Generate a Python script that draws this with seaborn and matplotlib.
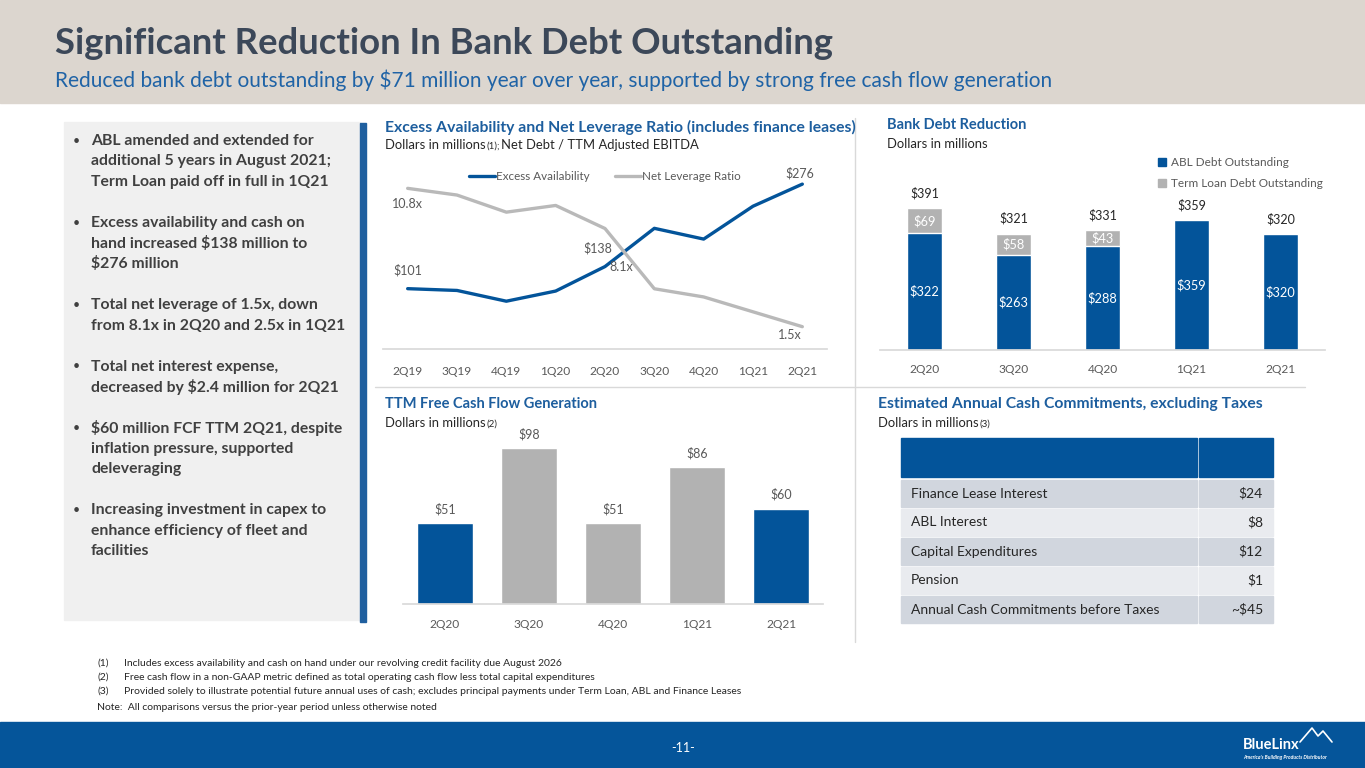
import matplotlib
matplotlib.use("Agg")
import matplotlib.pyplot as plt
from matplotlib.patches import Rectangle
from matplotlib.lines import Line2D
import seaborn as sns

# ---- data ----
line_quarters = ['2Q19', '3Q19', '4Q19', '1Q20', '2Q20', '3Q20', '4Q20', '1Q21', '2Q21']
excess_avail = [101, 98, 80, 97, 138, 202, 184, 239, 276]
net_leverage = [10.8, 10.35, 9.2, 9.65, 8.1, 4.05, 3.5, 2.5, 1.5]
avail_labels = {0: '$101', 4: '$138', 8: '$276'}
lev_labels = {0: '10.8x', 4: '8.1x', 8: '1.5x'}

debt_quarters = ['2Q20', '3Q20', '4Q20', '1Q21', '2Q21']
abl_debt = [322, 263, 288, 359, 320]
term_loan = [69, 58, 43, 0, 0]
total_debt = [391, 321, 331, 359, 320]

fcf_quarters = ['2Q20', '3Q20', '4Q20', '1Q21', '2Q21']
fcf_values = [51, 98, 51, 86, 60]

table_items = ['Finance Lease Interest', 'ABL Interest', 'Capital Expenditures',
               'Pension', 'Annual Cash Commitments before Taxes']
table_values = ['$24', '$8', '$12', '$1', '~$45']

bullets = [
    ['ABL amended and extended for', 'additional 5 years in August 2021;', 'Term Loan paid off in full in 1Q21'],
    ['Excess availability and cash on', 'hand increased $138 million to', '$276 million'],
    ['Total net leverage of 1.5x, down', 'from 8.1x in 2Q20 and 2.5x in 1Q21'],
    ['Total net interest expense,', 'decreased by $2.4 million for 2Q21'],
    ['$60 million FCF TTM 2Q21, despite', 'inflation pressure, supported', 'deleveraging'],
    ['Increasing investment in capex to', 'enhance efficiency of fleet and', 'facilities'],
]

footnotes = [
    ('(1)', 'Includes excess availability and cash on hand under our revolving credit facility due August 2026'),
    ('(2)', 'Free cash flow in a non-GAAP metric defined as total operating cash flow less total capital expenditures'),
    ('(3)', 'Provided solely to illustrate potential future annual uses of cash; excludes principal payments under Term Loan, ABL and Finance Leases'),
]

# ---- style ----
BLUE = '#03549A'
GREY = '#B2B2B2'
LINE_GREY = '#B9B9B9'
HEAD = '#1D5E9E'
DARK = '#404040'
TICK = '#595959'

sns.set_theme(style='white')
plt.rcParams['font.family'] = ['Lato', 'DejaVu Sans']

W, H = 1365, 768
fig = plt.figure(figsize=(W / 100, H / 100), dpi=100)
fig.patch.set_facecolor('white')

# background axes in pixel coordinates
bg = fig.add_axes([0, 0, 1, 1])
bg.set_xlim(0, W)
bg.set_ylim(H, 0)
bg.axis('off')


def text_width(t):
    return t.get_window_extent(renderer=fig.canvas.get_renderer()).width


def fit_text(x, y, s, width, size, **kw):
    t = bg.text(x, y, s, fontsize=size, **kw)
    t.set_fontsize(size * width / text_width(t))
    return t


def sub_line(x, y, parts):
    # parts: list of (text, fontsize, dy)
    for s, size, dy in parts:
        t = bg.text(x, y + dy, s, fontsize=size, color='#262626', va='center')
        x += text_width(t) + 1


def px_axes(x0, y0, x1, y1):
    a = fig.add_axes([x0 / W, 1 - y1 / H, (x1 - x0) / W, (y1 - y0) / H])
    a.patch.set_visible(False)
    return a


# header band (wood texture approximated)
bg.add_patch(Rectangle((0, 0), W, 103, color='#DCD6CF', zorder=0))
fit_text(55, 43, 'Significant Reduction In Bank Debt Outstanding', 780, 26,
         color='#3C4859', fontweight='bold', va='center')
fit_text(55, 80, 'Reduced bank debt outstanding by $71 million year over year, '
         'supported by strong free cash flow generation', 997, 15,
         color='#1F63A6', va='center')

# left panel
bg.add_patch(Rectangle((64, 122), 296, 498, color='#F0F0F0', zorder=0))
bg.add_patch(Rectangle((360, 123), 6, 499, color='#1F5F9F', zorder=1))
y = 141
for block in bullets:
    bg.text(73, y, '\u2022', fontsize=9, color=DARK, va='center')
    for line in block:
        bg.text(91, y, line, fontsize=11.3, color=DARK, fontweight='bold', va='center')
        y += 20.5
    y += 20.5

# separators
bg.plot([855, 855], [118, 642], color='#D9D9D9', lw=1)
bg.plot([375, 1305], [387, 387], color='#D9D9D9', lw=1)

# section headings
fit_text(385, 127, 'Excess Availability and Net Leverage Ratio (includes finance leases)', 470, 10.5,
         color=HEAD, fontweight='bold', va='center')
sub_line(385, 145, [('Dollars in millions', 9.4, 0), ('(1);', 7, 1.5),
                    ('Net Debt / TTM Adjusted EBITDA', 9.4, 0)])

bg.text(887, 125, 'Bank Debt Reduction', fontsize=10.5, color=HEAD, fontweight='bold', va='center')
sub_line(887, 144, [('Dollars in millions', 9.4, 0)])

bg.text(385, 404, 'TTM Free Cash Flow Generation', fontsize=10.5, color=HEAD, fontweight='bold', va='center')
sub_line(385, 423, [('Dollars in millions', 9.4, 0), ('(2)', 7, 1.5)])

fit_text(878, 404, 'Estimated Annual Cash Commitments, excluding Taxes', 385, 10.5,
         color=HEAD, fontweight='bold', va='center')
sub_line(878, 423, [('Dollars in millions', 9.4, 0), ('(3)', 7, 1.5)])

# ---- line chart: excess availability / net leverage ----
ax = px_axes(383, 165, 827, 349)
xs = list(range(len(line_quarters)))
sns.lineplot(x=xs, y=excess_avail, ax=ax, color=BLUE, lw=2.4, label='Excess Availability', legend=False)
ax2 = ax.twinx()
ax2.patch.set_visible(False)
sns.lineplot(x=xs, y=net_leverage, ax=ax2, color=LINE_GREY, lw=2.4, label='Net Leverage Ratio', legend=False)
ax.set_xlim(-0.5, 8.5)
ax.set_ylim(0, 308)
ax2.set_ylim(0, 12.37)
for a in (ax, ax2):
    a.set_yticks([])
    a.set_ylabel('')
    for side in ('top', 'left', 'right'):
        a.spines[side].set_visible(False)
    a.spines['bottom'].set_color('#D9D9D9')
ax2.spines['bottom'].set_visible(False)
ax.set_xticks(xs)
ax.set_xticklabels(line_quarters, fontsize=8.6, color=TICK)
ax.tick_params(axis='x', length=0, pad=12)

avail_off = {0: (0, 18), 4: (-7, 18), 8: (-3, 11)}
for i, s in avail_labels.items():
    ax.annotate(s, (i, excess_avail[i]), xytext=avail_off[i], textcoords='offset pixels',
                ha='center', va='center', fontsize=9, color=TICK)
lev_off = {0: (0, -16), 4: (16, -38), 8: (-12, -8)}
for i, s in lev_labels.items():
    ax2.annotate(s, (i, net_leverage[i]), xytext=lev_off[i], textcoords='offset pixels',
                 ha='center', va='center', fontsize=9, color=TICK)

handles = [Line2D([], [], color=BLUE, lw=2.4), Line2D([], [], color=LINE_GREY, lw=2.4)]
ax.legend(handles, ['Excess Availability', 'Net Leverage Ratio'], ncol=2, frameon=False,
          loc='center', bbox_to_anchor=(0.5, 0.935), fontsize=8.4, handlelength=2.2,
          handletextpad=0.1, columnspacing=2.2, labelcolor=TICK)

# ---- stacked bars: bank debt ----
bx = px_axes(880, 165, 1325, 350)
sns.barplot(x=debt_quarters, y=total_debt, ax=bx, color=GREY, width=0.39, saturation=1)
sns.barplot(x=debt_quarters, y=abl_debt, ax=bx, color=BLUE, width=0.39, saturation=1)
bx.set_xlim(-0.5, 4.5)
bx.set_ylim(0, 510.5)
bx.set_yticks([])
for side in ('top', 'left', 'right'):
    bx.spines[side].set_visible(False)
bx.spines['bottom'].set_color('#D9D9D9')
bx.tick_params(axis='x', length=0, pad=10, labelsize=8.6, labelcolor=TICK)
for i in range(len(debt_quarters)):
    bx.annotate(f'${total_debt[i]}', (i, total_debt[i]), xytext=(0, 15), textcoords='offset pixels',
                ha='center', va='center', fontsize=9, color='#262626')
    bx.text(i, abl_debt[i] / 2, f'${abl_debt[i]}', ha='center', va='center', fontsize=9.2, color='white')
    if term_loan[i]:
        bx.text(i, abl_debt[i] + term_loan[i] / 2, f'${term_loan[i]}', ha='center', va='center',
                fontsize=9.2, color='white')
bx.legend([Rectangle((0, 0), 1, 1, color=BLUE), Rectangle((0, 0), 1, 1, color=GREY)],
          ['ABL Debt Outstanding', 'Term Loan Debt Outstanding'], frameon=False,
          loc='upper left', bbox_to_anchor=(0.6, 1.1), fontsize=8.5, handlelength=0.7,
          handleheight=0.7, handletextpad=0.4, labelspacing=0.85, labelcolor=TICK)

# ---- bars: TTM free cash flow ----
fx = px_axes(403, 420, 823, 604)
fcf_colors = [BLUE, GREY, GREY, GREY, BLUE]
sns.barplot(x=fcf_quarters, y=fcf_values, hue=fcf_quarters, palette=fcf_colors, legend=False,
            ax=fx, width=0.67, saturation=1)
fx.set_xlim(-0.5, 4.5)
fx.set_ylim(0, 115.8)
fx.set_yticks([])
for side in ('top', 'left', 'right'):
    fx.spines[side].set_visible(False)
fx.spines['bottom'].set_color('#D9D9D9')
fx.tick_params(axis='x', length=0, pad=11, labelsize=8.6, labelcolor=TICK)
for i, v in enumerate(fcf_values):
    fx.annotate(f'${v}', (i, v), xytext=(0, 14), textcoords='offset pixels',
                ha='center', va='center', fontsize=9, color=TICK)

# ---- table: annual cash commitments ----
bg.add_patch(Rectangle((901, 438), 296, 39, color=BLUE))
bg.add_patch(Rectangle((1199, 438), 74, 39, color=BLUE))
row_top = 480
for i, (item, val) in enumerate(zip(table_items, table_values)):
    shade = '#D1D6DE' if i % 2 == 0 else '#E9EBEF'
    bg.add_patch(Rectangle((901, row_top), 296, 27, color=shade))
    bg.add_patch(Rectangle((1199, row_top), 74, 27, color=shade))
    bg.text(911, row_top + 13.5, item, fontsize=10, color='#262626', va='center')
    bg.text(1263, row_top + 13.5, val, fontsize=10, color='#262626', va='center', ha='right')
    row_top += 29

# ---- footnotes ----
fy = 663
for num, txt in footnotes:
    bg.text(97, fy, num, fontsize=7.5, color='#262626', va='center')
    bg.text(124, fy, txt, fontsize=7.5, color='#262626', va='center')
    fy += 14
bg.text(97, 707, 'Note:  All comparisons versus the prior-year period unless otherwise noted',
        fontsize=7.5, color='#262626', va='center')

# ---- footer ----
bg.add_patch(Rectangle((0, 722), W, 46, color='#05559A'))
bg.text(683, 748, '-11-', fontsize=9, color='white', ha='center', va='center')
bg.text(1243, 745, 'BlueLinx', fontsize=10.5, color='white', fontweight='bold', va='center')
bg.text(1243, 757, "America's Building Products Distributor", fontsize=3.6, color='white',
        fontstyle='italic', fontweight='bold', va='center')
bg.plot([1300, 1312, 1318, 1323, 1332], [742, 728, 736, 731, 742], color='white', lw=1.2)

fig.savefig('out.png', dpi=100)
